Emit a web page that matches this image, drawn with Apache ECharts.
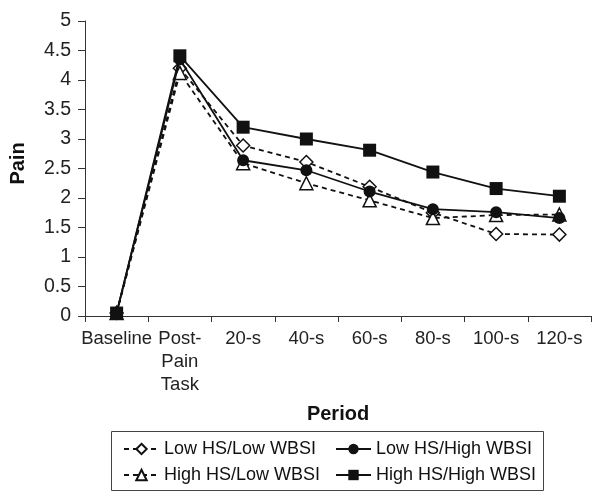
<!DOCTYPE html>
<html><head><meta charset="utf-8">
<script src="https://cdn.jsdelivr.net/npm/echarts@6/dist/echarts.min.js"></script>
<style>html,body{margin:0;padding:0;background:#fff}#c{width:601px;height:499px}</style>
</head><body><div id="c"></div>
<script>
const categories = ['Baseline', 'Post-\nPain\nTask', '20-s', '40-s', '60-s', '80-s', '100-s', '120-s'];
const lowHsLowWbsi  = [0.05, 4.20, 2.89, 2.61, 2.19, 1.75, 1.39, 1.38];
const lowHsHighWbsi = [0.05, 4.35, 2.64, 2.47, 2.11, 1.81, 1.76, 1.66];
const highHsLowWbsi = [0.05, 4.12, 2.59, 2.25, 1.96, 1.66, 1.71, 1.72];
const highHsHighWbsi= [0.05, 4.41, 3.20, 3.00, 2.81, 2.44, 2.16, 2.03];
const yTicks = [0, 0.5, 1, 1.5, 2, 2.5, 3, 3.5, 4, 4.5, 5];

const FONT = 'Liberation Sans, Arial, sans-serif';
const chart = echarts.init(document.getElementById('c'));
function s(name, data, symbol, size, dashed, hollow) {
  return {
    name, type: 'line', data, symbol, symbolSize: size, z: hollow ? 3 : 4,
    lineStyle: { color: '#111', width: 1.8, type: dashed ? [5, 4] : 'solid' },
    itemStyle: { color: hollow ? '#fff' : '#111', borderColor: '#111', borderWidth: hollow ? 1.5 : 0, opacity: 1 },
    emphasis: { disabled: true }, animation: false
  };
}
chart.setOption({
  animation: false,
  textStyle: { fontFamily: FONT },
  grid: { left: 80, right: 10, top: 21, bottom: 183, containLabel: false },
  xAxis: {
    type: 'category', data: categories, boundaryGap: true,
    name: 'Period', nameLocation: 'middle', nameGap: 88,
    nameTextStyle: { fontFamily: FONT, fontSize: 20, fontWeight: 'bold', color: '#111' },
    axisLine: { lineStyle: { color: '#333', width: 1 } },
    axisTick: { show: true, length: 6, alignWithLabel: false, lineStyle: { color: '#333' } },
    axisLabel: { fontFamily: FONT, fontSize: 18.5, color: '#222', margin: 11, lineHeight: 23, interval: 0 }
  },
  yAxis: {
    type: 'value', min: 0, max: 5, interval: 0.5,
    name: 'Pain', nameLocation: 'middle', nameGap: 57, nameRotate: 90,
    nameTextStyle: { fontFamily: FONT, fontSize: 20, fontWeight: 'bold', color: '#111', padding: [0, 0, 0, 10] },
    splitLine: { show: false },
    axisLine: { show: true, lineStyle: { color: '#333', width: 1 } },
    axisTick: { show: true, length: 7, lineStyle: { color: '#333' } },
    axisLabel: { fontFamily: FONT, fontSize: 19.5, color: '#222', margin: 14,
      formatter: v => yTicks.includes(v) ? String(v) : '' }
  },
  legend: [
    { orient: 'vertical', left: 118, top: 435, itemWidth: 35, itemHeight: 13, itemGap: 8,
      data: ['Low HS/Low WBSI', 'High HS/Low WBSI'],
      textStyle: { fontFamily: FONT, fontSize: 18, color: '#111' }, selectedMode: false },
    { orient: 'vertical', left: 330, top: 435, itemWidth: 35, itemHeight: 13, itemGap: 8,
      data: ['Low HS/High WBSI', 'High HS/High WBSI'],
      textStyle: { fontFamily: FONT, fontSize: 18, color: '#111' }, selectedMode: false }
  ],
  graphic: [{ type: 'rect', shape: { x: 111.5, y: 431.5, width: 432, height: 59 },
    style: { fill: 'none', stroke: '#444', lineWidth: 1 } }],
  series: [
    s('Low HS/Low WBSI', lowHsLowWbsi, 'diamond', 13, true, true),
    s('High HS/Low WBSI', highHsLowWbsi, 'triangle', 13, true, true),
    s('Low HS/High WBSI', lowHsHighWbsi, 'circle', 12, false, false),
    s('High HS/High WBSI', highHsHighWbsi, 'rect', 13, false, false)
  ]
});
</script></body></html>
